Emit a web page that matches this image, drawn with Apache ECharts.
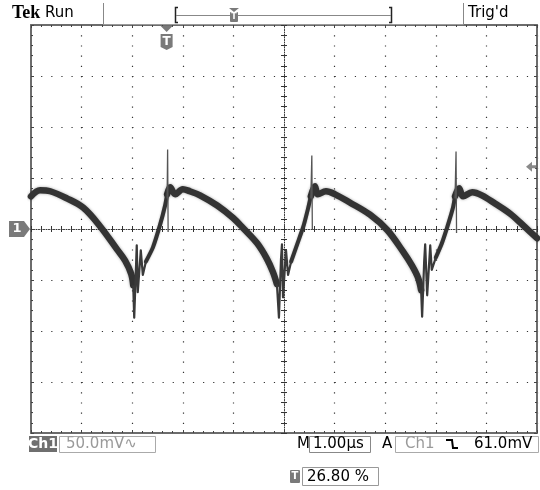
<!DOCTYPE html>
<html><head><meta charset="utf-8">
<script src="https://cdn.jsdelivr.net/npm/echarts@6/dist/echarts.min.js"></script>
<style>html,body{margin:0;padding:0;background:#fff}#c{width:540px;height:490px}</style>
</head><body><div id="c"></div>
<script>
// ---- data (time in µs, amplitude in mV) ----
const arcPoints = [
  [0,32],[0.18,38],[0.38,37],[0.71,30],[1.03,21],[1.36,3],[1.70,-20],[1.86,-31],[1.98,-44],[2.02,-55], null,
  [2.69,34],[2.75,41],[2.85,34],[3.00,39],[3.14,37],[3.34,33],[3.68,23],[3.99,11],[4.19,1],[4.47,-14],[4.66,-29],[4.78,-42],[4.86,-54], null,
  [5.53,32],[5.61,42],[5.67,34],[5.83,37],[6.01,34],[6.30,26],[6.70,14],[7.04,-1],[7.35,-22],[7.53,-36],[7.65,-48],[7.71,-60], null,
  [8.38,32],[8.46,40],[8.54,32],[8.72,36],[8.91,33],[9.17,25],[9.47,15],[9.76,2],[10,-9]
];
const risePoints = [
  [2.27,-32],[2.41,-18],[2.55,4],[2.65,23],[2.69,34], null,
  [5.14,-32],[5.26,-15],[5.38,2],[5.47,19],[5.53,32], null,
  [8.00,-28],[8.12,-14],[8.24,4],[8.34,21],[8.38,32]
];
const ringPoints = [
  [2.02,-55],[2.04,-87],[2.08,-30],[2.09,-16],[2.11,-62],[2.17,-21],[2.21,-45],[2.27,-32], null,
  [4.86,-54],[4.90,-87],[4.94,-30],[4.96,-15],[4.98,-67],[5.04,-21],[5.08,-45],[5.14,-32], null,
  [7.71,-60],[7.73,-86],[7.77,-32],[7.79,-15],[7.83,-65],[7.89,-16],[7.92,-40],[8.00,-28]
];
const spikePoints = [
  [2.69,30],[2.70,78],[2.71,-3], null,
  [5.53,30],[5.55,72],[5.56,-1], null,
  [8.38,30],[8.40,76],[8.41,-4]
];
const TIME_MIN = 0, TIME_MAX = 10, TIME_DIV = 1;      // µs
const VOLT_MIN = -200, VOLT_MAX = 200, VOLT_DIV = 50; // mV
const TRIG_LEVEL_MV = 61.0;
const TRIG_POS_PCT = 26.80;
const CH_LABEL = 'Ch1';
const VOLT_READOUT = '50.0mV\u223F';
const TIME_READOUT = '1.00\u00B5s';
const TRIG_SRC = 'Ch1';
const TRIG_READOUT = '61.0mV';
const POS_READOUT = '26.80 %';

const FONT = "'DejaVu Sans', sans-serif";
const el = document.getElementById('c');
const chart = echarts.init(el, null, {renderer: 'canvas'});

function borderX(pos) {
  return {
    type: 'value', min: TIME_MIN, max: TIME_MAX, interval: TIME_DIV, position: pos,
    axisLine: {show: true, onZero: false, lineStyle: {color: '#6c6c6c', width: 2}},
    axisTick: {show: true, inside: true, length: 3, lineStyle: {color: '#444'}},
    minorTick: {show: true, splitNumber: 5, length: 2, lineStyle: {color: '#444'}},
    axisLabel: {show: false},
    splitLine: {show: pos === 'bottom', lineStyle: {color: '#333', width: 1.2, type: [1.2, 9.0]}}
  };
}
function centerX(pos) {
  return {
    type: 'value', min: TIME_MIN, max: TIME_MAX, interval: TIME_DIV, position: pos,
    axisLine: {show: pos === 'bottom', onZero: true, lineStyle: {color: '#333', width: 1, type: [1, 1.5]}},
    axisTick: {show: true, inside: false, length: 3, lineStyle: {color: '#333'}},
    minorTick: {show: true, splitNumber: 5, length: 3, lineStyle: {color: '#333'}},
    axisLabel: {show: false}, splitLine: {show: false}
  };
}
function borderY(pos) {
  return {
    type: 'value', min: VOLT_MIN, max: VOLT_MAX, interval: VOLT_DIV, position: pos,
    axisLine: {show: true, onZero: false, lineStyle: {color: '#6c6c6c', width: 2}},
    axisTick: {show: true, inside: true, length: 3, lineStyle: {color: '#444'}},
    minorTick: {show: true, splitNumber: 5, length: 2, lineStyle: {color: '#444'}},
    axisLabel: {show: false},
    splitLine: {show: pos === 'left', lineStyle: {color: '#333', width: 1.2, type: [1.2, 8.92]}}
  };
}
function centerY(pos) {
  return {
    type: 'value', min: VOLT_MIN, max: VOLT_MAX, interval: VOLT_DIV, position: pos, offset: -253,
    axisLine: {show: pos === 'left', onZero: false, lineStyle: {color: '#333', width: 1, type: [1, 1.5]}},
    axisTick: {show: true, inside: false, length: 3, lineStyle: {color: '#333'}},
    minorTick: {show: true, splitNumber: 5, length: 3, lineStyle: {color: '#333'}},
    axisLabel: {show: false}, splitLine: {show: false}
  };
}

const option = {
  backgroundColor: '#ffffff',
  animation: false,
  grid: {left: 31, top: 25, right: 3, bottom: 57, containLabel: false},
  xAxis: [borderX('bottom'), borderX('top'), centerX('bottom'), centerX('top')],
  yAxis: [borderY('left'), borderY('right'), centerY('left'), centerY('right')],
  series: [
    {type: 'line', name: 'arc', data: arcPoints, showSymbol: false, symbol: 'none', connectNulls: false, z: 5, smooth: 0.35,
     lineStyle: {color: '#333333', width: 6.5, cap: 'round', join: 'round', shadowBlur: 3, shadowColor: 'rgba(0,0,0,0.35)'}},
    {type: 'line', name: 'rise', data: risePoints, showSymbol: false, symbol: 'none', connectNulls: false, z: 5, smooth: 0.2,
     lineStyle: {color: '#333333', width: 4, cap: 'round', join: 'round', shadowBlur: 2, shadowColor: 'rgba(0,0,0,0.35)'}},
    {type: 'line', name: 'ring', data: ringPoints, showSymbol: false, symbol: 'none', connectNulls: false, z: 6,
     lineStyle: {color: '#3a3a3a', width: 2.2, join: 'round'}},
    {type: 'line', name: 'spike', data: spikePoints, showSymbol: false, symbol: 'none', connectNulls: false, z: 6,
     lineStyle: {color: '#555', width: 1.3}}
  ]
};
chart.setOption(option);

const trigX = chart.convertToPixel({xAxisIndex: 0}, TRIG_POS_PCT / 100 * (TIME_MAX - TIME_MIN) + TIME_MIN);
const gndY = chart.convertToPixel({yAxisIndex: 0}, 0);
const lvlY = chart.convertToPixel({yAxisIndex: 0}, TRIG_LEVEL_MV);
const gridL = chart.convertToPixel({xAxisIndex: 0}, TIME_MIN);
const gridR = chart.convertToPixel({xAxisIndex: 0}, TIME_MAX);
const gridB = chart.convertToPixel({yAxisIndex: 0}, VOLT_MIN);

function txt(x, y, s, font, fill, align) {
  return {type: 'text', silent: true, z: 110,
    style: {x: x, y: y, text: s, font: font, fill: fill, align: align || 'left', verticalAlign: 'middle',
            textAlign: align || 'left', textVerticalAlign: 'middle'}};
}
function ln(x1, y1, x2, y2, c, w) {
  return {type: 'line', silent: true, z: 100, shape: {x1: x1, y1: y1, x2: x2, y2: y2}, style: {stroke: c, lineWidth: w || 1}};
}
function box(x, y, w, h, c) {
  return {type: 'rect', silent: true, z: 100, shape: {x: x, y: y, width: w, height: h}, style: {fill: 'none', stroke: c, lineWidth: 1}};
}
const GRAY = '#7a7a7a';
const bottomY = gridB + 11;
const graphics = [
  // header
  txt(12, 13, 'Tek', "bold 18px 'Liberation Serif', serif", '#000'),
  txt(45, 13, 'Run', '15px ' + FONT, '#000'),
  ln(103.5, 3, 103.5, 25, '#888', 1),
  ln(103.5, 24.5, 463.5, 24.5, '#999', 1),
  ln(463.5, 3, 463.5, 25, '#888', 1),
  txt(468, 13, "Trig'd", '15px ' + FONT, '#000'),
  // record bracket
  {type: 'polyline', silent: true, z: 100, shape: {points: [[178, 7.5], [175.5, 7.5], [175.5, 22.5], [178, 22.5]]}, style: {stroke: '#222', lineWidth: 1.5, fill: 'none'}},
  {type: 'polyline', silent: true, z: 100, shape: {points: [[389, 7.5], [391.5, 7.5], [391.5, 22.5], [389, 22.5]]}, style: {stroke: '#222', lineWidth: 1.5, fill: 'none'}},
  ln(176, 15.5, 391, 15.5, '#888', 1),
  {type: 'polygon', silent: true, z: 101, shape: {points: [[229, 8], [239, 8], [234, 12]]}, style: {fill: GRAY}},
  {type: 'rect', silent: true, z: 101, shape: {x: 230, y: 12, width: 8, height: 10, r: 1}, style: {fill: GRAY}},
  txt(234, 17, 'T', "bold 8px " + FONT, '#fff', 'center'),
  // trigger position marker
  {type: 'polygon', silent: true, z: 101, shape: {points: [[trigX - 6, 26], [trigX + 6, 26], [trigX, 32]]}, style: {fill: GRAY}},
  {type: 'polygon', silent: true, z: 101, shape: {points: [[trigX - 6, 34], [trigX + 6, 34], [trigX + 6, 47], [trigX, 50], [trigX - 6, 47]]}, style: {fill: GRAY}},
  txt(trigX, 41.5, 'T', 'bold 12px ' + FONT, '#fff', 'center'),
  // ground marker
  {type: 'polygon', silent: true, z: 101, shape: {points: [[9, gndY - 8], [24, gndY - 8], [gridL - 1, gndY], [24, gndY + 8], [9, gndY + 8]]}, style: {fill: GRAY}},
  txt(17, gndY, '1', 'bold 13px ' + FONT, '#fff', 'center'),
  // trigger level marker
  {type: 'polygon', silent: true, z: 101, shape: {points: [[gridR - 11, lvlY], [gridR - 5, lvlY - 5], [gridR - 5, lvlY - 1.5], [gridR - 1, lvlY - 1.5], [gridR - 1, lvlY + 1.5], [gridR - 5, lvlY + 1.5], [gridR - 5, lvlY + 5]]}, style: {fill: '#8a8a8a'}},
  // bottom readouts
  {type: 'rect', silent: true, z: 100, shape: {x: 29, y: gridB + 3, width: 28, height: 16}, style: {fill: '#6f6f6f'}},
  txt(43, bottomY, CH_LABEL, 'bold 14px ' + FONT, '#fff', 'center'),
  box(59.5, gridB + 3.5, 96, 16, '#aaa'),
  txt(66, bottomY, VOLT_READOUT, '15px ' + FONT, '#9a9a9a'),
  txt(297, bottomY, 'M', '15px ' + FONT, '#000'),
  box(309.5, gridB + 3.5, 61, 16, '#888'),
  txt(313, bottomY, TIME_READOUT, '15px ' + FONT, '#000'),
  txt(382, bottomY, 'A', '15px ' + FONT, '#000'),
  box(395.5, gridB + 3.5, 143, 16, '#aaa'),
  txt(405, bottomY, TRIG_SRC, '15px ' + FONT, '#9a9a9a'),
  {type: 'polyline', silent: true, z: 100, shape: {points: [[446, bottomY - 4], [452, bottomY - 4], [453, bottomY + 4], [458, bottomY + 4]]}, style: {stroke: '#000', lineWidth: 2, fill: 'none'}},
  txt(474, bottomY, TRIG_READOUT, '15px ' + FONT, '#000'),
  {type: 'rect', silent: true, z: 100, shape: {x: 290, y: 470, width: 10, height: 13, r: 1}, style: {fill: GRAY}},
  txt(295, 476.5, 'T', 'bold 10px ' + FONT, '#fff', 'center'),
  box(302.5, 467.5, 76, 18, '#999'),
  txt(307, 477, POS_READOUT, '15px ' + FONT, '#000')
];
chart.setOption({graphic: graphics});
</script>
</body></html>
